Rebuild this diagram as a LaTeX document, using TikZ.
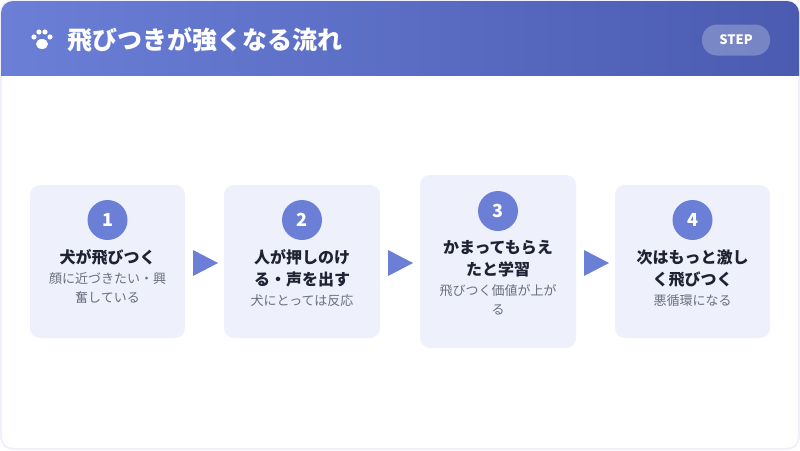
\documentclass[tikz,border=0pt]{standalone}
\usepackage{fontspec}
\setmainfont{Noto Sans CJK JP}
\usetikzlibrary{positioning}
\definecolor{accent}{HTML}{6B7FD7}
\definecolor{accentdk}{HTML}{4A5BB0}
\definecolor{cardbg}{HTML}{EEF0FB}
\definecolor{ink}{HTML}{1F2233}
\definecolor{muted}{HTML}{6A6F80}
\tikzset{
  card/.style={fill=cardbg, rounded corners=10pt, draw=none},
  num/.style={circle, fill=accent, minimum size=40pt, inner sep=0pt, text=white, font=\fontsize{18}{18}\selectfont\bfseries},
  ttl/.style={align=center, text=ink, inner sep=1pt, font=\fontsize{16}{22}\selectfont\bfseries},
  dsc/.style={align=center, text=muted, inner sep=1pt, font=\fontsize{13}{19}\selectfont},
  flowarrow/.style={fill=accent}
}
\begin{document}
\begin{tikzpicture}[x=1pt,y=-1pt]
\useasboundingbox (0,0) rectangle (800,450);
% frame and header
\fill[white, draw=cardbg, line width=2pt, rounded corners=12pt] (1,1) rectangle (799,449);
\begin{scope}
  \clip[rounded corners=12pt] (1,1) rectangle (799,449);
  \shade[left color=accent, right color=accentdk] (0,0) rectangle (800,75);
\end{scope}
% paw
\fill[white] (42,44) ellipse (6pt and 5pt);
\foreach \px/\py in {34/37, 39/32, 45/32, 50/37} \fill[white] (\px,\py) circle (2.6pt);
\node[anchor=west, text=white, font=\fontsize{25}{25}\selectfont\bfseries] (title) at (64,40) {飛びつきが強くなる流れ};
\node[fill=white, fill opacity=0.25, text opacity=1, text=white, rounded corners=15pt, minimum width=68pt, minimum height=31pt, font=\fontsize{13}{13}\selectfont\bfseries] (stp) at (736,40) {STEP};
% cards
\fill[card] (30,185) rectangle (185,338);
\fill[card] (224,185) rectangle (380,338);
\fill[card] (420,175) rectangle (576,348);
\fill[card] (615,185) rectangle (770,338);
\node[num] (n1) at (107.5,220) {1};
\node[ttl, below=8pt of n1] (t1) {犬が飛びつく};
\node[dsc, below=5pt of t1] (d1) {顔に近づきたい・興\\奮している};
\node[num] (n2) at (302,220) {2};
\node[ttl, below=8pt of n2] (t2) {人が押しのけ\\る・声を出す};
\node[dsc, below=5pt of t2] (d2) {犬にとっては反応};
\node[num] (n3) at (498,211) {3};
\node[ttl, below=8pt of n3] (t3) {かまってもらえ\\たと学習};
\node[dsc, below=5pt of t3] (d3) {飛びつく価値が上が\\る};
\node[num] (n4) at (692.5,220) {4};
\node[ttl, below=8pt of n4] (t4) {次はもっと激し\\く飛びつく};
\node[dsc, below=5pt of t4] (d4) {悪循環になる};
% arrows
\foreach \ax in {193,388,584} \fill[flowarrow] (\ax,250) -- (\ax+25,263) -- (\ax,276) -- cycle;
\end{tikzpicture}
\end{document}
